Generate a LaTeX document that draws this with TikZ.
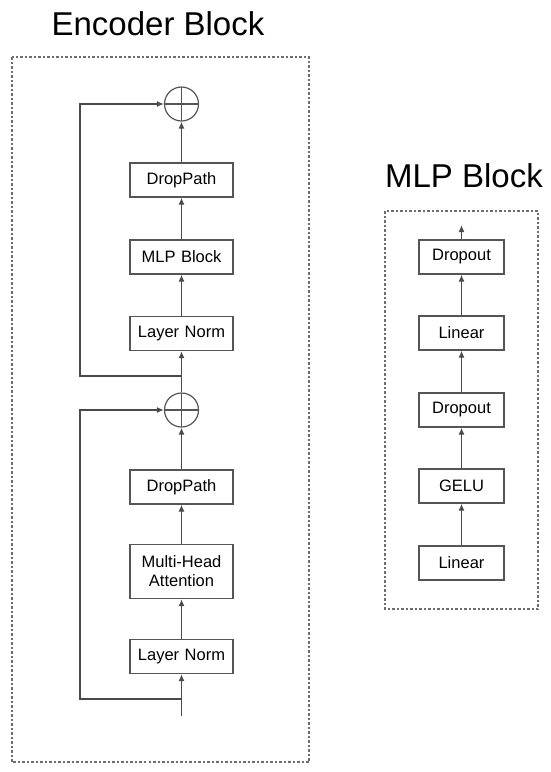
\documentclass[tikz,border=0pt]{standalone}
\usepackage{fontspec}
\setmainfont{Liberation Sans}
\usetikzlibrary{positioning, arrows.meta, calc}

\definecolor{lineGray}{HTML}{4A4A4A}
\definecolor{boxGray}{HTML}{555555}
\definecolor{dashGray}{HTML}{6E6E6E}

\tikzset{
  layerbox/.style={draw=boxGray, line width=1.3pt, fill=white, minimum height=34pt,
    inner sep=2pt, align=center, font=\fontsize{16.5}{19}\selectfont},
  encbox/.style={layerbox, minimum width=103pt, text width=97pt},
  mlpbox/.style={layerbox, minimum width=85pt, text width=79pt},
  addnode/.style={circle, draw=boxGray, line width=1.2pt, minimum size=34pt, inner sep=0pt,
    path picture={\draw[boxGray, line width=1.2pt]
      (path picture bounding box.north) -- (path picture bounding box.south)
      (path picture bounding box.west) -- (path picture bounding box.east);}},
  flow/.style={draw=lineGray, line width=1.3pt, -{Latex[length=7pt,width=6pt]}},
  frame/.style={draw=dashGray, line width=1.2pt, dash pattern=on 2.5pt off 2pt},
  title/.style={anchor=base, font=\fontsize{33}{38}\selectfont}
}

\begin{document}
\begin{tikzpicture}[x=1pt, y=-1pt]
  \useasboundingbox (0,0) rectangle (550,772);

  % Encoder block
  \node[title] (enctitle) at (158,35) {Encoder Block};
  \draw[frame] (12,57) rectangle (309,762);

  \node[addnode] (add2) at (181.5,104) {};
  \node[encbox] (drop2) at (181.5,180) {DropPath};
  \node[encbox] (mlp) at (181.5,257) {MLP Block};
  \node[encbox] (norm2) at (181.5,333.5) {Layer Norm};
  \node[addnode] (add1) at (181.5,410) {};
  \node[encbox] (drop1) at (181.5,487) {DropPath};
  \node[encbox, minimum height=54pt] (mha) at (181.5,571.5) {Multi-Head\\Attention};
  \node[encbox] (norm1) at (181.5,656.5) {Layer Norm};

  \coordinate (input) at (181.5,716);
  \coordinate (split1) at (181.5,699);
  \coordinate (split2) at (181.5,376);

  \draw[flow] (input) -- (norm1);
  \draw[flow] (norm1) -- (mha);
  \draw[flow] (mha) -- (drop1);
  \draw[flow] (drop1) -- (add1);
  \draw[flow] (add1) -- (norm2);
  \draw[flow] (norm2) -- (mlp);
  \draw[flow] (mlp) -- (drop2);
  \draw[flow] (drop2) -- (add2);

  % residual connections
  \draw[flow] (split1) -- ++(-101.5,0) |- (add1.west);
  \draw[flow] (split2) -- ++(-101.5,0) |- (add2.west);

  % MLP block
  \node[title] (mlptitle) at (464,187) {MLP Block};
  \draw[frame] (385,211) rectangle (538,609);

  \node[mlpbox] (dropb) at (461.5,257) {Dropout};
  \node[mlpbox] (linb) at (461.5,333) {Linear};
  \node[mlpbox] (dropa) at (461.5,410) {Dropout};
  \node[mlpbox] (gelu) at (461.5,486) {GELU};
  \node[mlpbox] (lina) at (461.5,563) {Linear};
  \coordinate (mlpout) at (461.5,225);

  \draw[flow] (lina) -- (gelu);
  \draw[flow] (gelu) -- (dropa);
  \draw[flow] (dropa) -- (linb);
  \draw[flow] (linb) -- (dropb);
  \draw[flow] (dropb) -- (mlpout);
\end{tikzpicture}
\end{document}
